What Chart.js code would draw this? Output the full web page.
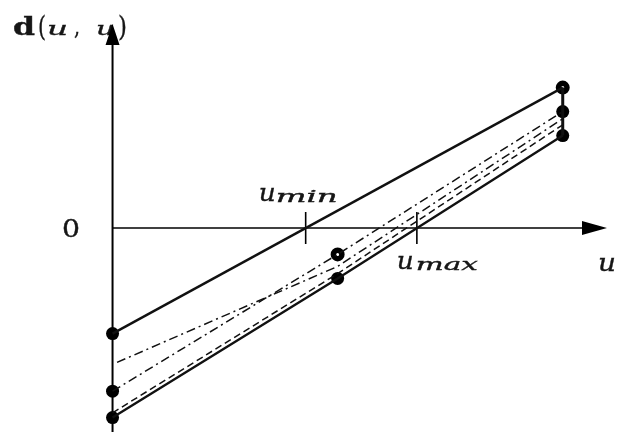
<!DOCTYPE html>
<html lang="en">
<head>
    <meta charset="UTF-8">
    <title>d(u, u)</title>
    <script src="https://cdn.jsdelivr.net/npm/chart.js"></script>
    <style>
        body {
            margin: 0;
            padding: 0;
            background: white;
        }
        #wrap {
            width: 619px;
            height: 432px;
        }
    </style>
</head>
<body>
    <div id="wrap"><canvas id="grafico" width="619" height="432"></canvas></div>
    <script>
        // zero crossings marked on the u axis
        const tickValues = [4.29, 6.76];
        const tickNames = ['min', 'max'];

        // solid upper and lower bounds
        const upperU = [0, 10];
        const upperD = [-4.4, 5.85];
        const lowerU = [0, 5, 10];
        const lowerD = [-7.9, -2.1, 3.85];

        // dashed curves between the bounds
        const dashAU = [0.1, 5, 10];
        const dashAD = [-5.6, -1.6, 4.55];
        const dashBU = [0, 5, 10];
        const dashBD = [-6.8, -1.1, 4.85];
        const dashCU = [0, 5, 10];
        const dashCD = [-7.7, -1.9, 4.3];

        // right edge segment
        const edgeU = [10, 10];
        const edgeD = [5.85, 3.85];

        // marked points
        const dotU = [0, 0, 0, 5, 10, 10];
        const dotD = [-4.4, -6.8, -7.9, -2.1, 4.85, 3.85];
        const ringU = [5, 10];
        const ringD = [-1.1, 5.85];

        const pts = (us, ds) => us.map((u, i) => ({x: u, y: ds[i]}));

        function line(us, ds, width, dash) {
            return {
                data: pts(us, ds),
                showLine: true,
                borderColor: '#111',
                borderWidth: width,
                borderDash: dash,
                pointRadius: 0,
                fill: false
            };
        }

        // text squeezed or stretched to a given width, lightly stroked for weight
        function fitText(c, text, font, x, y, w) {
            c.font = font;
            const k = w / c.measureText(text).width;
            c.save();
            c.translate(x, y);
            c.scale(k, 1);
            c.fillText(text, 0, 0);
            c.lineWidth = 0.35;
            c.strokeText(text, 0, 0);
            c.restore();
        }

        // labels first, then axes with arrows and ticks on top
        const diagram = {
            id: 'diagram',
            beforeDatasetsDraw(chart) {
                const c = chart.ctx;
                const sx = chart.scales.x, sy = chart.scales.y;
                const x0 = sx.getPixelForValue(0), y0 = sy.getPixelForValue(0);
                c.save();
                c.fillStyle = '#161616';
                c.strokeStyle = '#161616';
                c.textBaseline = 'alphabetic';

                const up = '25px "DejaVu Serif"';
                const par = '28px "DejaVu Serif"';
                const it = 'italic 24px "DejaVu Serif"';
                const itS = 'italic 19px "DejaVu Serif"';
                const bd = 'bold 24px "DejaVu Serif"';
                const sub = 'italic 16px "DejaVu Serif"';

                // d(u, u)
                fitText(c, 'd', bd, 13, 35, 22);
                fitText(c, '(', par, 38, 36, 8);
                fitText(c, 'u', itS, 47, 35, 21);
                fitText(c, ',', up, 74, 35, 6);
                fitText(c, 'u', itS, 96, 35, 19);
                fitText(c, ')', par, 118, 36, 9);

                fitText(c, '0', up, 62, y0 + 9, 18);

                const mn = sx.getPixelForValue(tickValues[0]);
                fitText(c, 'u', it, mn - 47, y0 - 27, 17);
                fitText(c, tickNames[0], sub, mn - 30, y0 - 26, 62);
                const mx = sx.getPixelForValue(tickValues[1]);
                fitText(c, 'u', it, mx - 20, y0 + 41, 17);
                fitText(c, tickNames[1], sub, mx - 1, y0 + 42, 62);

                fitText(c, 'u', it, 598, y0 + 43, 18);

                c.strokeStyle = '#000';
                c.fillStyle = '#000';
                c.lineWidth = 2;
                c.beginPath();
                c.moveTo(x0, 432);
                c.lineTo(x0, 40);
                c.stroke();
                c.lineWidth = 1.6;
                c.beginPath();
                c.moveTo(x0, y0);
                c.lineTo(588, y0);
                c.stroke();
                // arrow heads
                c.beginPath();
                c.moveTo(x0, 24);
                c.lineTo(x0 - 7, 45);
                c.lineTo(x0 + 7, 45);
                c.closePath();
                c.fill();
                c.beginPath();
                c.moveTo(607, y0);
                c.lineTo(582, y0 - 7);
                c.lineTo(582, y0 + 7);
                c.closePath();
                c.fill();
                // ticks
                tickValues.forEach(v => {
                    const px = sx.getPixelForValue(v);
                    c.beginPath();
                    c.moveTo(px, y0 - 16);
                    c.lineTo(px, y0 + 16);
                    c.stroke();
                });
                c.restore();
            }
        };

        const ctx = document.getElementById('grafico').getContext('2d');
        new Chart(ctx, {
            type: 'scatter',
            data: {
                datasets: [
                    line(upperU, upperD, 2.4, []),
                    line(lowerU, lowerD, 2.4, []),
                    line(edgeU, edgeD, 3, []),
                    line(dashAU, dashAD, 1.5, [9, 4, 2, 4]),
                    line(dashBU, dashBD, 1.5, [9, 4, 2, 4]),
                    line(dashCU, dashCD, 1.5, [7, 4]),
                    {
                        data: pts(dotU, dotD),
                        pointRadius: 6.5,
                        pointBackgroundColor: '#000',
                        pointBorderWidth: 0
                    },
                    {
                        data: pts(ringU, ringD),
                        pointRadius: 4.25,
                        pointBackgroundColor: '#fff',
                        pointBorderColor: '#000',
                        pointBorderWidth: 5.5
                    }
                ]
            },
            options: {
                responsive: false,
                animation: false,
                layout: { padding: 0, autoPadding: false },
                plugins: {
                    legend: { display: false },
                    tooltip: { enabled: false }
                },
                scales: {
                    x: { type: 'linear', min: -2.5, max: 11.25, display: false },
                    y: { type: 'linear', min: -8.5, max: 9.5, display: false }
                }
            },
            plugins: [diagram]
        });
    </script>
</body>
</html>
